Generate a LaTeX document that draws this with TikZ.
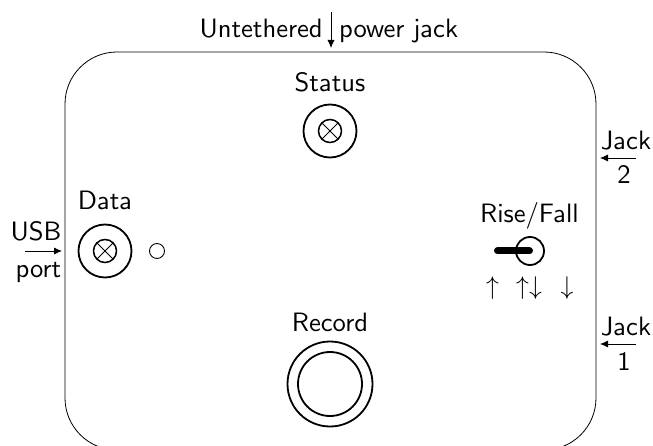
\documentclass[tikz,border=0pt]{standalone}
\usepackage{fix-cm}
\usetikzlibrary{arrows.meta,calc}
\font\lblfont=cmss10 at 26.6pt
\tikzset{
  lbl/.style={font=\lblfont,inner sep=0pt,anchor=base},
  mathlbl/.style={inner sep=0pt,font=\fontsize{25.6}{30}\selectfont},
  arr/.style={-{Latex[length=8pt,width=7pt]},line width=0.8pt},
  ring/.style={circle,draw,line width=1.8pt,inner sep=0pt,minimum size=#1},
  lamp/.style={circle,draw,line width=1.5pt,inner sep=0pt,minimum size=23pt,path picture={
    \draw[line width=1pt] (path picture bounding box.north west)--(path picture bounding box.south east)
      (path picture bounding box.north east)--(path picture bounding box.south west);}},
}
\begin{document}
\begin{tikzpicture}[x=1pt,y=-1pt]
\useasboundingbox (0,0) rectangle (653,446);
\clip (0,0) rectangle (653,446);
\draw[line width=0.8pt,rounded corners=52pt] (65,52) rectangle (596,450);
% status
\node[ring=53pt] (statusring) at (330,131) {};
\node[lamp] (statuslamp) at (330,131) {};
\node[lbl] (statuslbl) at (330,92) {Status};
% data
\node[ring=53pt] (dataring) at (105,251) {};
\node[lamp] (datalamp) at (105,251) {};
\node[lbl] (datalbl) at (105,210) {Data};
\node[circle,draw,line width=0.9pt,inner sep=0pt,minimum size=15pt] (dot) at (157,251) {};
% record
\node[ring=85pt] (recouter) at (330,384) {};
\node[ring=64pt] (recinner) at (330,384) {};
\node[lbl] (reclbl) at (330,331) {Record};
% switch
\node[ring=28pt] (sw) at (530,251) {};
\coordinate (swa) at (494,251);
\coordinate (swb) at (533,251);
\draw[line width=7pt,line cap=round] ($(swa)+(3.5,0)$) -- ($(swb)+(-3.5,0)$);
\node[lbl] (swlbl) at (529.5,222.5) {Rise/Fall};
\node[mathlbl] (up) at (492.5,288) {$\uparrow$};
\node[mathlbl] (updown) at (529,288) {$\uparrow\downarrow$};
\node[mathlbl] (down) at (567,288) {$\downarrow$};
% top
\node[lbl,anchor=base east] (unt) at (323,38) {Untethered};
\node[lbl,anchor=base west] (pow) at (339,38) {power jack};
\coordinate (ta) at (331,12);
\coordinate (tb) at (331,48);
\draw[arr] (ta) -- (tb);
% USB
\node[lbl,anchor=base east] (usb) at (61.5,240.5) {USB};
\node[lbl,anchor=base east] (port) at (61.5,278) {port};
\coordinate (ua) at (25,251);
\coordinate (ub) at (62,251);
\draw[arr] (ua) -- (ub);
% Jack 2
\node[lbl] (j2) at (626,149.5) {Jack};
\node[lbl] (n2) at (624,184) {2};
\coordinate (jaa) at (636,158);
\coordinate (jab) at (600,158);
\draw[arr] (jaa) -- (jab);
% Jack 1
\node[lbl] (j1) at (626,335.5) {Jack};
\node[lbl] (n1) at (624,370) {1};
\coordinate (jba) at (636,344);
\coordinate (jbb) at (600,344);
\draw[arr] (jba) -- (jbb);
\end{tikzpicture}
\end{document}
